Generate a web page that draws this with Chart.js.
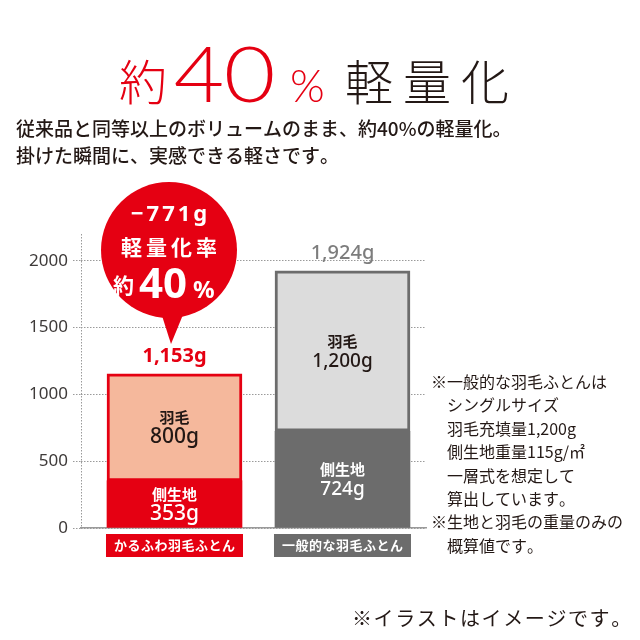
<!DOCTYPE html>
<html><head><meta charset="utf-8">
<script src="https://cdn.jsdelivr.net/npm/chart.js@4/dist/chart.umd.min.js"></script>
<style>html,body{margin:0;padding:0;background:#fff}canvas{display:block}</style>
</head><body>
<canvas id="c" width="640" height="640"></canvas>
<script>
// ---- data ----
const categories = ['かるふわ羽毛ふとん', '一般的な羽毛ふとん'];
const fabricWeight = [353, 724];          // 側生地 (g)
const downWeight = [800, 1200];           // 羽毛 (g)
const segmentNames = ['側生地', '羽毛'];
const totalLabels = ['1,153g', '1,924g'];
const valueLabels = [['353g', '724g'], ['800g', '1,200g']];
const yTickValues = [0, 500, 1000, 1500, 2000];
const titleRed = ['約', '40', '%'];
const titleDark = '軽量化';
const subtitleLines = ['従来品と同等以上のボリュームのまま、約40%の軽量化。', '掛けた瞬間に、実感できる軽さです。'];
const bubbleLines = ['−771g', '軽量化率', '約', '40', '%'];
const noteLines = ['※一般的な羽毛ふとんは', 'シングルサイズ', '羽毛充填量1,200g', '側生地重量115g/㎡', '一層式を想定して', '算出しています。', '※生地と羽毛の重量のみの', '概算値です。'];
const footnote = '※イラストはイメージです。';

const RED = '#e50012', SALMON = '#f5b89c', DGREY = '#6c6c6c', LGREY = '#dcdcdc', INK = '#231815';
const JP = '"Noto Sans CJK JP", sans-serif';
const LAT = '"Noto Sans", sans-serif';

function spaced(ctx, text, x, y, sp, align) {
  const chars = [...text];
  const w = chars.map(c => ctx.measureText(c).width);
  const total = w.reduce((a, b) => a + b, 0) + sp * (chars.length - 1);
  let cx = align === 'center' ? x - total / 2 : (align === 'right' ? x - total : x);
  ctx.textAlign = 'left';
  chars.forEach((c, i) => { ctx.fillText(c, cx, y); cx += w[i] + sp; });
  return total;
}
// draw text stretched horizontally so that its ink spans [x0, x1]
function fitInk(ctx, text, x0, x1, y) {
  ctx.textAlign = 'left';
  const m = ctx.measureText(text);
  const inkL = -m.actualBoundingBoxLeft, inkW = m.actualBoundingBoxRight + m.actualBoundingBoxLeft;
  const sx = (x1 - x0) / inkW;
  ctx.save();
  ctx.translate(x0 - inkL * sx, y);
  ctx.scale(sx, 1);
  ctx.fillText(text, 0, 0);
  ctx.restore();
}

const overlay = {
  id: 'overlay',
  beforeDatasetsDraw(chart) {
    const ctx = chart.ctx, a = chart.chartArea;
    ctx.save();
    ctx.strokeStyle = '#9a9a9a'; ctx.lineWidth = 1; ctx.setLineDash([1.5, 1.5]);
    ctx.beginPath(); ctx.moveTo(a.left + 0.5, a.top); ctx.lineTo(a.left + 0.5, a.bottom); ctx.stroke();
    ctx.restore();
  },
  afterDraw(chart) {
    const ctx = chart.ctx;
    const ys = chart.scales.y;
    ctx.save();
    ctx.textBaseline = 'alphabetic';

    // Title
    ctx.fillStyle = RED;
    ctx.font = '300 48px ' + JP; spaced(ctx, titleRed[0], 119, 100, 0);
    ctx.font = '300 76px "Lato", sans-serif';
    fitInk(ctx, titleRed[1][0], 175, 222, 102);
    fitInk(ctx, titleRed[1][1], 226, 273, 102);
    ctx.font = '300 46px "Lato", sans-serif'; fitInk(ctx, titleRed[2], 292, 323, 102);
    ctx.fillStyle = INK;
    ctx.font = '300 48px ' + JP; spaced(ctx, titleDark, 345, 100, 10);

    // Subtitle
    ctx.font = '500 19px ' + JP;
    spaced(ctx, subtitleLines[0], 16, 136, 0);
    spaced(ctx, subtitleLines[1], 16, 163, 0);

    // Bars: inner labels, totals, category boxes
    const m0 = chart.getDatasetMeta(0), m1 = chart.getDatasetMeta(1);
    categories.forEach((cat, j) => {
      const low = m0.data[j], up = m1.data[j];
      const x = low.x, w = low.width;
      [[low, 0], [up, 1]].forEach(([el, d]) => {
        const c = (el.y + el.base) / 2;
        ctx.fillStyle = d === 0 ? '#ffffff' : INK;
        ctx.font = 'bold 15px ' + JP; spaced(ctx, segmentNames[d], x, c - 4, 0, 'center');
        ctx.font = '500 ' + (j === 0 ? 21 : 19) + 'px ' + LAT; spaced(ctx, valueLabels[d][j], x, c + 16, 0, 'center');
      });
      const top = ys.getPixelForValue(fabricWeight[j] + downWeight[j]);
      ctx.fillStyle = j === 0 ? RED : '#7d7d7d';
      ctx.font = (j === 0 ? 'bold' : '500') + ' 20px ' + LAT;
      spaced(ctx, totalLabels[j], x, top - 12, 0, 'center');
      ctx.fillStyle = j === 0 ? RED : DGREY;
      ctx.fillRect(x - w / 2 - 1, 534, w + 2, 23);
      ctx.fillStyle = '#ffffff';
      ctx.font = 'bold 13px ' + JP;
      spaced(ctx, cat, x, 550, 0.5, 'center');
    });

    // Bubble
    const bx = 169, by = 250, br = 68;
    ctx.fillStyle = RED;
    ctx.beginPath(); ctx.arc(bx, by, br, 0, Math.PI * 2); ctx.fill();
    ctx.beginPath(); ctx.moveTo(157, 300); ctx.lineTo(189, 300); ctx.lineTo(171, 344); ctx.closePath(); ctx.fill();
    ctx.fillStyle = '#ffffff';
    ctx.font = 'bold 22px ' + LAT; spaced(ctx, bubbleLines[0], bx, 221, 3, 'center');
    ctx.font = 'bold 21px ' + JP; spaced(ctx, bubbleLines[1], bx, 255, 4, 'center');
    ctx.font = 'bold 21px ' + JP; spaced(ctx, bubbleLines[2], 113, 293, 0);
    ctx.font = 'bold 42px ' + LAT; spaced(ctx, bubbleLines[3], 139, 298, 0);
    ctx.font = 'bold 24px ' + LAT; spaced(ctx, bubbleLines[4], 193, 298, 0);

    // Notes
    ctx.fillStyle = INK;
    ctx.font = '400 16px ' + JP;
    noteLines.forEach((t, i) => {
      const x = t.startsWith('※') ? 431 : 447;
      spaced(ctx, t, x, 388 + i * 23.4, 0);
    });

    // Footnote
    ctx.font = '400 20px ' + JP;
    spaced(ctx, footnote, 352, 626, 1.6);
    ctx.restore();
  }
};

function build() {
  new Chart(document.getElementById('c'), {
    type: 'bar',
    data: {
      labels: categories,
      datasets: [
        { label: segmentNames[0], data: fabricWeight, backgroundColor: [RED, DGREY], borderWidth: 0, barThickness: 135 },
        { label: segmentNames[1], data: downWeight, backgroundColor: [SALMON, LGREY], borderColor: [RED, DGREY], borderWidth: 3, borderSkipped: false, barThickness: 135 }
      ]
    },
    options: {
      responsive: false, animation: false, devicePixelRatio: 1,
      layout: { padding: { left: 0, top: 234, right: 214, bottom: 112 } },
      plugins: { legend: { display: false }, tooltip: { enabled: false } },
      scales: {
        x: {
          stacked: true,
          grid: { display: false },
          border: { display: true, color: '#9a9a9a', width: 1.5 },
          ticks: { display: false },
          afterFit: s => { s.height = 0; },
          afterBuildTicks: s => { s._startValue = -0.5565; s._valueRange = 2.0536; }
        },
        y: {
          stacked: true, min: 0, max: 2200,
          afterFit: s => { s.width = 81; },
          afterBuildTicks: s => { s.ticks = yTickValues.map(v => ({ value: v })); },
          ticks: { stepSize: 500, color: '#3e3a39', font: { family: '"Noto Sans"', size: 17 }, padding: 5, callback: v => String(v) },
          grid: { color: '#9a9a9a', lineWidth: 1, tickLength: 8, tickColor: '#9a9a9a', tickBorderDash: [1.5, 1.5] },
          border: { display: false, dash: [1.5, 1.5] }
        }
      }
    },
    plugins: [overlay]
  });
}

const fontSpecs = ['300 48px "Noto Sans CJK JP"', 'bold 20px "Noto Sans CJK JP"', '500 19px "Noto Sans CJK JP"', '300 76px Lato', '300 46px Lato', 'bold 20px "Noto Sans"', '400 16px "Noto Sans"'];
Promise.all(fontSpecs.map(f => document.fonts.load(f, 'あ40%'))).catch(() => {}).then(build);
</script>
</body></html>
